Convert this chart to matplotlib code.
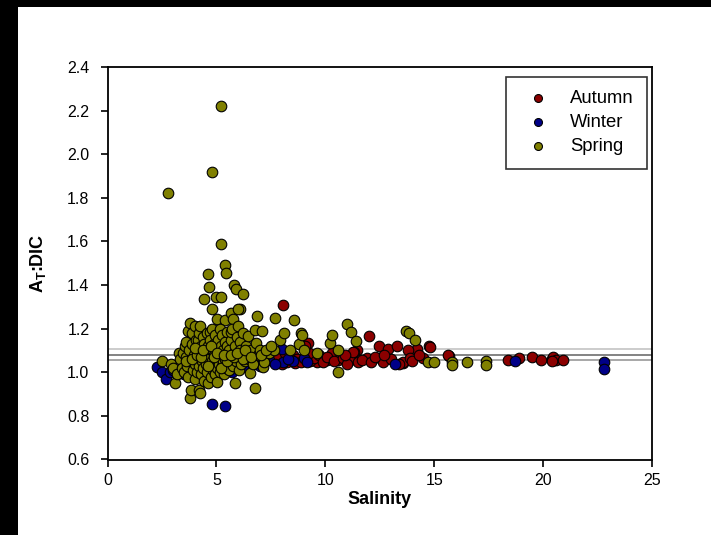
import matplotlib
matplotlib.use("Agg")
import matplotlib.pyplot as plt
from matplotlib.patches import Rectangle

plt.rcParams['font.family'] = ['Liberation Sans', 'DejaVu Sans']
plt.rcParams['mathtext.fontset'] = 'custom'
plt.rcParams['mathtext.rm'] = 'Liberation Sans'
plt.rcParams['mathtext.bf'] = 'Liberation Sans:bold'

# ---------------- data ----------------
autumn_sal = [8.07, 12.0, 12.47, 12.9, 13.28, 14.2, 13.8, 14.77, 9.2, 11.45, 11.3,
              15.68, 18.37, 18.9, 19.48, 19.9, 20.4, 20.45, 20.6, 20.9, 20.4, 13.56, 14.5,
              8.23, 8.61, 8.84, 9.6, 10.06, 10.3, 10.6, 11.13, 11.29, 11.52, 11.9, 12.51,
              12.66, 13.58, 13.89, 14.81, 15.65,
              7.3, 7.6, 7.8, 8.0, 8.3, 8.5, 8.7, 8.9, 9.1, 9.3, 9.5, 9.7, 9.9, 10.1, 10.4,
              10.8, 11.0, 11.7, 12.1, 12.3, 13.0, 13.4, 14.0, 14.3, 6.9, 7.1, 8.15, 9.25,
              10.9, 12.7, 6.6, 9.05]
autumn_ratio = [1.31, 1.165, 1.12, 1.105, 1.12, 1.107, 1.10, 1.12, 1.135, 1.10, 1.095,
                1.075, 1.057, 1.065, 1.072, 1.056, 1.061, 1.07, 1.058, 1.058, 1.05, 1.044, 1.065,
                1.049, 1.041, 1.056, 1.049, 1.056, 1.087, 1.056, 1.056, 1.094, 1.049, 1.064, 1.064,
                1.049, 1.049, 1.064, 1.117, 1.079,
                1.06, 1.05, 1.07, 1.04, 1.065, 1.08, 1.06, 1.045, 1.07, 1.05, 1.065, 1.08, 1.045,
                1.07, 1.05, 1.065, 1.04, 1.055, 1.045, 1.07, 1.06, 1.04, 1.05, 1.08, 1.05, 1.07,
                1.09, 1.09, 1.08, 1.08, 1.04, 1.12]

winter_sal = [2.26, 2.49, 2.69, 2.87, 3.2, 3.5, 3.9, 4.3, 4.78, 5.4, 5.0, 5.7, 6.22, 6.7,
              7.4, 8.0, 8.07, 9.0, 9.15, 7.7, 8.5, 13.2, 18.7, 22.8, 22.8, 4.6, 3.0, 5.3,
              6.0, 7.0, 8.3]
winter_ratio = [1.025, 1.0, 0.97, 1.0, 0.99, 0.99, 1.0, 1.0, 0.853, 0.845, 1.0, 1.003, 1.026,
                1.04, 1.055, 1.105, 1.045, 1.065, 1.045, 1.04, 1.05, 1.04, 1.05, 1.045, 1.015,
                1.0, 1.01, 1.01, 1.02, 1.03, 1.06]

spring_sal = [2.8, 5.2, 4.8, 5.2, 5.4, 5.45, 4.6, 4.65, 5.8, 5.9, 6.2, 4.45, 5.0, 5.2, 6.1,
              4.8, 5.05, 5.4, 5.65, 5.75, 6.0,
              2.5, 2.9, 3.0, 3.1, 3.2, 3.3, 3.35, 3.4, 3.45, 3.5, 3.55, 3.6, 3.62, 3.65, 3.7,
              3.7, 3.75, 3.78, 3.8, 3.82, 3.85, 3.9, 3.9, 3.92, 3.95, 4.0, 4.0, 4.02, 4.05,
              4.1, 4.1, 4.12, 4.15, 4.2, 4.2, 4.22, 4.25, 4.25, 4.28, 4.3, 4.3, 4.35, 4.38,
              4.4, 4.4, 4.45, 4.45, 4.5, 4.5, 4.55, 4.55, 4.6, 4.6, 4.62, 4.65, 4.7, 4.7,
              4.72, 4.75, 4.8, 4.8, 4.82, 4.85, 4.88, 4.9, 4.9, 4.95, 4.95, 5.0, 5.0, 5.03,
              5.05, 5.08, 5.1, 5.1, 5.15, 5.15, 5.2, 5.2, 5.25, 5.28, 5.3, 5.3, 5.35, 5.4,
              5.4, 5.45, 5.48, 5.5, 5.5, 5.55, 5.6, 5.6, 5.65, 5.67, 5.7, 5.7, 5.75, 5.8,
              5.85, 5.85, 5.9, 5.95, 6.0, 6.0, 6.05, 6.08, 6.1, 6.15, 6.2, 6.25, 6.3, 6.35,
              6.4, 6.45, 6.5, 6.54, 6.6, 6.7, 6.77, 6.8, 6.85, 6.9, 7.0, 7.1, 7.15, 7.2, 7.4,
              7.65, 7.7, 7.9, 8.1, 8.4, 8.57, 8.8, 8.9, 8.95, 9.0, 9.6, 10.2, 10.3, 10.6,
              10.6, 11.0, 11.2, 11.4, 6.75, 13.7, 13.85, 14.1, 14.7, 15.0, 15.8, 15.8, 16.5,
              17.4, 17.4,
              3.6, 3.9, 4.1, 4.3, 4.6, 4.9, 5.2, 5.5, 5.8, 6.2, 4.0, 4.4, 4.75, 5.05, 5.35,
              5.65, 5.95, 6.3, 6.6, 7.05, 7.3, 7.5]
spring_ratio = [1.82, 2.22, 1.92, 1.59, 1.49, 1.455, 1.45, 1.39, 1.40, 1.38, 1.36, 1.335,
                1.345, 1.345, 1.29, 1.29, 1.245, 1.24, 1.27, 1.245, 1.29,
                1.05, 1.04, 1.02, 0.95, 0.99, 1.09, 1.06, 1.02, 1.09, 1.0, 1.12, 1.07, 1.14,
                1.03, 1.19, 0.98, 1.1, 1.225, 0.88, 1.05, 0.92, 1.18, 1.13, 1.01, 1.08, 1.21,
                1.04, 0.97, 1.15, 1.11, 1.0, 1.06, 1.15, 1.18, 0.92, 1.03, 1.21, 0.905, 1.09,
                1.12, 0.99, 1.05, 1.16, 1.07, 1.02, 1.13, 0.96, 1.1, 1.04, 1.18, 1.0, 0.95,
                1.08, 1.12, 1.06, 1.185, 1.03, 1.15, 0.98, 1.1, 1.05, 1.2, 1.01, 1.08, 1.13,
                1.04, 1.17, 0.99, 1.06, 1.11, 0.957, 1.02, 1.15, 1.09, 1.04, 1.2, 1.0, 1.07,
                1.12, 1.03, 1.17, 1.05, 1.1, 0.99, 1.14, 1.06, 1.02, 1.185, 1.08, 1.12, 1.04,
                1.1, 1.01, 1.15, 1.185, 1.06, 1.2, 1.03, 1.09, 0.952, 1.12, 1.05, 1.16, 1.21,
                1.07, 1.01, 1.14, 1.1, 1.04, 1.18, 1.08, 1.05, 1.12, 1.09, 1.165, 1.06, 0.998,
                1.1, 1.04, 1.194, 1.134, 1.26, 1.08, 1.1, 1.19, 1.025, 1.045, 1.09, 1.1, 1.25,
                1.15, 1.18, 1.1, 1.24, 1.13, 1.18, 1.17, 1.1, 1.09, 1.135, 1.17, 1.1, 1.0,
                1.22, 1.185, 1.145, 0.93, 1.19, 1.18, 1.15, 1.045, 1.045, 1.045, 1.035, 1.045,
                1.05, 1.035,
                1.05, 1.06, 1.08, 1.07, 1.03, 1.07, 1.02, 1.05, 1.07, 1.06, 1.11, 1.1, 1.12,
                1.09, 1.08, 1.08, 1.09, 1.1, 1.07, 1.08, 1.1, 1.12]

ref_lines = [1.107, 1.081, 1.056]
ref_colors = ['#c8c8c8', '#7a7a7a', '#a0a0a0']

x_ticks = [0, 5, 10, 15, 20, 25]
y_ticks = [0.6, 0.8, 1.0, 1.2, 1.4, 1.6, 1.8, 2.0, 2.2, 2.4]

# ---------------- figure ----------------
W, H = 711, 535
fig = plt.figure(figsize=(W / 100, H / 100), dpi=100)
fig.patch.set_facecolor('white')
# black frame strips (top and left) present in the reference image
fig.patches.append(Rectangle((0, 1 - 7 / H), 1, 7 / H, transform=fig.transFigure,
                             facecolor='black', edgecolor='none', zorder=0))
fig.patches.append(Rectangle((0, 0), 18 / W, 1, transform=fig.transFigure,
                             facecolor='black', edgecolor='none', zorder=0))

left, right, top, bottom = 107.5, 652, 67, 459.5
ax = fig.add_axes([left / W, 1 - bottom / H, (right - left) / W, (bottom - top) / H])

for v, c in zip(ref_lines, ref_colors):
    ax.axhline(v, color=c, lw=1.3, zorder=1)

mk = dict(s=58, edgecolors='black', linewidths=0.8, zorder=3)
ax.scatter(autumn_sal, autumn_ratio, c='#8b0000', label='Autumn', **mk)
ax.scatter(winter_sal, winter_ratio, c='#000088', label='Winter', **mk)
ax.scatter(spring_sal, spring_ratio, c='#808000', label='Spring', **mk)

ax.set_xlim(0, 25)
ax.set_ylim(0.6, 2.4)
ax.set_xticks(x_ticks)
ax.set_yticks(y_ticks)
ax.set_xticklabels([str(t) for t in x_ticks])
ax.set_yticklabels(['%.1f' % t for t in y_ticks])
ax.tick_params(direction='out', length=5, width=1.2, labelsize=11.5,
               top=False, right=False)
ax.tick_params(axis='x', pad=5)
ax.tick_params(axis='y', pad=8)
for sp in ax.spines.values():
    sp.set_linewidth(1.3)

ax.set_xlabel('Salinity', fontsize=13, fontweight='bold', labelpad=2)
ax.set_ylabel(r'$\mathbf{A_T}$:DIC', fontsize=13, fontweight='bold', labelpad=14)

leg = ax.legend(loc='upper right', bbox_to_anchor=(647 / W, 1 - 77 / H),
                bbox_transform=fig.transFigure, fontsize=13.3, frameon=True,
                fancybox=False, edgecolor='black', markerscale=0.75,
                handlelength=2.06, handletextpad=0.7, labelspacing=0.38,
                borderpad=0.72, borderaxespad=0)
leg.get_frame().set_linewidth(1.2)

fig.savefig('out.png', dpi=100)
